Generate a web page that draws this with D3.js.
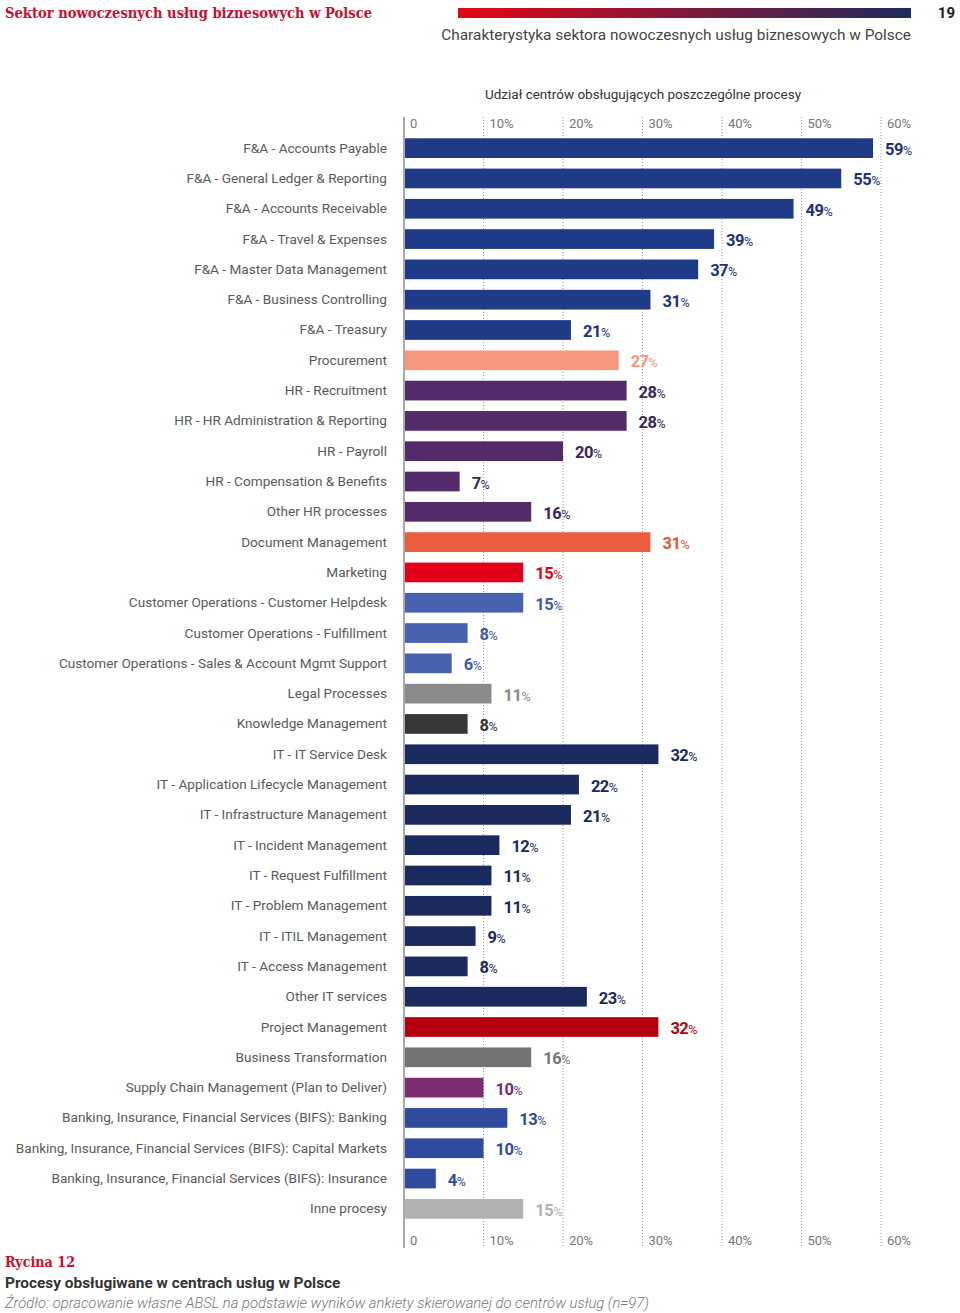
<!DOCTYPE html>
<html><head><meta charset="utf-8">
<script src="https://cdn.jsdelivr.net/npm/d3@7"></script>
<style>
body{margin:0;background:#fff;}
svg{display:block;}
</style></head>
<body>
<svg id="c" width="960" height="1313"></svg>
<script>
const categories = [
"F&A - Accounts Payable","F&A - General Ledger & Reporting","F&A - Accounts Receivable","F&A - Travel & Expenses",
"F&A - Master Data Management","F&A - Business Controlling","F&A - Treasury","Procurement","HR - Recruitment",
"HR - HR Administration & Reporting","HR - Payroll","HR - Compensation & Benefits","Other HR processes",
"Document Management","Marketing","Customer Operations - Customer Helpdesk","Customer Operations - Fulfillment",
"Customer Operations - Sales & Account Mgmt Support","Legal Processes","Knowledge Management","IT - IT Service Desk",
"IT - Application Lifecycle Management","IT - Infrastructure Management","IT - Incident Management",
"IT - Request Fulfillment","IT - Problem Management","IT - ITIL Management","IT - Access Management",
"Other IT services","Project Management","Business Transformation","Supply Chain Management (Plan to Deliver)",
"Banking, Insurance, Financial Services (BIFS): Banking","Banking, Insurance, Financial Services (BIFS): Capital Markets",
"Banking, Insurance, Financial Services (BIFS): Insurance","Inne procesy"];
const values = [59,55,49,39,37,31,21,27,28,28,20,7,16,31,15,15,8,6,11,8,32,22,21,12,11,11,9,8,23,32,16,10,13,10,4,15];
const groups = ["fa","fa","fa","fa","fa","fa","fa","proc","hr","hr","hr","hr","hr","doc","mkt","co","co","co","legal","km",
"it","it","it","it","it","it","it","it","it","pm","bt","scm","bifs","bifs","bifs","inne"];
const tickValues = [0,10,20,30,40,50,60];
const tickLabels = ["0","10%","20%","30%","40%","50%","60%"];

const barColor = {fa:"#1f3a87",proc:"#f4997f",hr:"#532a6a",doc:"#ea5c3d",mkt:"#e2001a",co:"#4862b0",legal:"#8a8a8a",
  km:"#373737",it:"#1b2a5c",pm:"#b4000f",bt:"#737373",scm:"#7b2c73",bifs:"#2f4b9e",inne:"#b2b2b2"};
const labelColor = {fa:"#1d3278",proc:"#f2977c",hr:"#3c2656",doc:"#e4553a",mkt:"#e2001a",co:"#3f5aa8",legal:"#8a8a8a",
  km:"#333333",it:"#1b2a5c",pm:"#b4000f",bt:"#777777",scm:"#7b2c73",bifs:"#2f4b9e",inne:"#b2b2b2"};

const svg = d3.select("#c");
const x = d3.scaleLinear().domain([0,60]).range([404,881]);
const y = d3.scaleBand().domain(categories).range([133,1224]).paddingInner(0.35).paddingOuter(0.175);

// header
const defs = svg.append("defs");
const grad = defs.append("linearGradient").attr("id","g1");
grad.append("stop").attr("offset","0%").attr("stop-color","#e30613");
grad.append("stop").attr("offset","100%").attr("stop-color","#1d2b5e");
svg.append("rect").attr("x",458).attr("y",8).attr("width",453).attr("height",10).attr("fill","url(#g1)");
svg.append("text").attr("x",5).attr("y",18).text("Sektor nowoczesnych usług biznesowych w Polsce")
  .attr("font-family","'DejaVu Serif Condensed','DejaVu Serif',serif").attr("font-stretch","condensed")
  .attr("font-weight","bold").attr("font-size",15.5).attr("fill","#c8102e")
  .attr("textLength",367).attr("lengthAdjust","spacingAndGlyphs");
svg.append("text").attr("x",955).attr("y",18).attr("text-anchor","end").text("19")
  .attr("font-family","Roboto").attr("font-weight","bold").attr("font-size",15).attr("fill","#222");
svg.append("text").attr("x",911).attr("y",40).attr("text-anchor","end")
  .text("Charakterystyka sektora nowoczesnych usług biznesowych w Polsce")
  .attr("font-family","Roboto").attr("font-size",15.4).attr("fill","#444");
svg.append("text").attr("x",643).attr("y",99).attr("text-anchor","middle")
  .text("Udział centrów obsługujących poszczególne procesy")
  .attr("font-family","Roboto").attr("font-size",13.5).attr("fill","#333");

// grid
const gTop = 117, gBot = 1248;
svg.append("g").selectAll("line").data(tickValues.slice(1)).join("line")
  .attr("x1",d=>x(d)).attr("x2",d=>x(d)).attr("y1",gTop).attr("y2",gBot)
  .attr("stroke","#9a9a9a").attr("stroke-width",1).attr("stroke-dasharray","1,2");
svg.append("line").attr("x1",x(0)).attr("x2",x(0)).attr("y1",gTop).attr("y2",gBot)
  .attr("stroke","#555").attr("stroke-width",1);

// axes labels
[128,1245].forEach(yy=>{
  svg.append("g").selectAll("text").data(tickValues).join("text")
    .attr("x",d=>x(d)+6).attr("y",yy).text((d,i)=>tickLabels[i])
    .attr("font-family","Roboto").attr("font-size",13).attr("fill","#777");
});

// bars
svg.append("g").selectAll("rect").data(categories).join("rect")
  .attr("x",x(0)+1).attr("y",d=>y(d)).attr("height",y.bandwidth())
  .attr("width",(d,i)=>x(values[i])-x(0)-1).attr("fill",(d,i)=>barColor[groups[i]]);

// category labels
svg.append("g").selectAll("text").data(categories).join("text")
  .attr("x",387).attr("y",d=>y(d)+y.bandwidth()/2+4.5).attr("text-anchor","end").text(d=>d)
  .attr("font-family","Roboto").attr("font-size",13.6).attr("fill","#5a5a5a");

// value labels
const vl = svg.append("g").selectAll("text").data(categories).join("text")
  .attr("x",(d,i)=>x(values[i])+12).attr("y",d=>y(d)+y.bandwidth()/2+7)
  .attr("font-family","Roboto").attr("font-weight","bold").attr("fill",(d,i)=>labelColor[groups[i]]);
vl.append("tspan").attr("font-size",16.5).attr("letter-spacing",-0.5).text((d,i)=>values[i]);
vl.append("tspan").attr("font-size",12.5).attr("font-weight","normal").text("%");

// caption
svg.append("text").attr("x",5).attr("y",1267).text("Rycina 12")
  .attr("font-family","'DejaVu Serif Condensed','DejaVu Serif',serif").attr("font-stretch","condensed")
  .attr("font-weight","bold").attr("font-size",15.5).attr("fill","#c8102e")
  .attr("textLength",70).attr("lengthAdjust","spacingAndGlyphs");
svg.append("text").attr("x",5).attr("y",1288).text("Procesy obsługiwane w centrach usług w Polsce")
  .attr("font-family","Roboto").attr("font-weight","bold").attr("font-size",15.4).attr("fill","#333");
svg.append("text").attr("x",5).attr("y",1308)
  .text("Źródło: opracowanie własne ABSL na podstawie wyników ankiety skierowanej do centrów usług (n=97)")
  .attr("font-family","Roboto").attr("font-style","italic").attr("font-weight",300).attr("font-size",14.8).attr("fill","#777");
</script>
</body></html>
